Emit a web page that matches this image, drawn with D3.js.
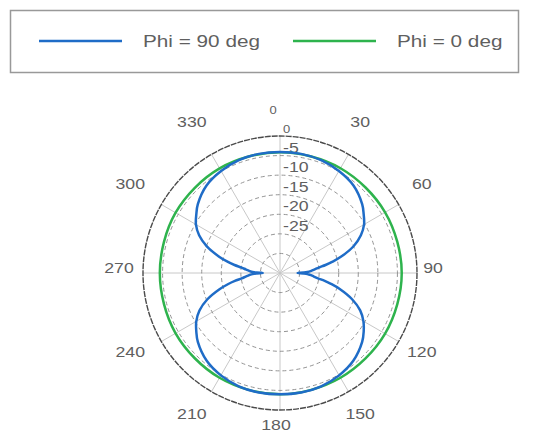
<!DOCTYPE html>
<html><head><meta charset="utf-8">
<script src="https://cdn.jsdelivr.net/npm/d3@7"></script>
<style>
html,body{margin:0;padding:0;background:#fff;}
svg{display:block;}
text{font-family:"Liberation Sans",Arial,sans-serif;fill:#5f5f5f;}
</style></head>
<body>
<svg id="chart" width="543" height="433"></svg>
<script>
// ---- data ----
const seriesNames = ["Phi = 90 deg", "Phi = 0 deg"];
const angleTicks = [0, 30, 60, 90, 120, 150, 180, 210, 240, 270, 300, 330];
const radialTicks = [0, -5, -10, -15, -20, -25];
const ringValues = [-30, -25, -20, -15, -10, -5];
const rMin = -35, rMax = 0;

// Phi = 90 deg (blue), dB vs angle (deg, clockwise from top)
const blueAngles = [0, 10, 20, 30, 40, 50, 55, 60, 65, 70, 75, 78, 80, 82, 84, 86, 88, 89, 90,
  91, 92, 94, 96, 98, 100, 102, 105, 110, 115, 120, 125, 130, 140, 150, 160, 170, 180,
  190, 200, 210, 220, 230, 235, 240, 245, 250, 255, 258, 260, 262, 264, 266, 268, 269, 270,
  271, 272, 274, 276, 278, 280, 282, 285, 290, 295, 300, 305, 310, 320, 330, 340, 350];
const blueDb = [-4.1, -4.1, -4.3, -4.9, -5.8, -7.6, -8.9, -10.2, -12.2, -15.0, -18.8, -21.4, -23.2, -25.0, -26.1, -27.0, -28.0, -29.0, -30.5,
  -29.0, -28.0, -27.1, -26.3, -25.2, -23.4, -21.7, -19.2, -15.4, -12.4, -10.4, -8.9, -7.6, -5.8, -4.8, -4.2, -4.0, -4.0,
  -4.0, -4.2, -4.8, -5.8, -7.6, -8.9, -10.3, -12.3, -15.2, -19.0, -21.5, -23.3, -25.1, -26.2, -27.1, -28.0, -29.0, -30.6,
  -29.0, -28.0, -27.1, -26.2, -25.1, -23.2, -21.4, -18.9, -15.1, -12.2, -10.2, -8.9, -7.6, -5.8, -4.9, -4.3, -4.1];

// Phi = 0 deg (green)
const greenAngles = [0, 30, 60, 90, 120, 150, 180, 210, 240, 270, 300, 330];
const greenDb = [-4.15, -4.1, -4.0, -3.9, -4.0, -4.1, -4.0, -4.1, -4.2, -4.3, -4.2, -4.15];

const colors = ["#1f6cc7", "#2eb34d"];

// ---- drawing ----
const svg = d3.select("#chart");
const cx = 280, cy = 273, R = 137;
const r = d3.scaleLinear().domain([rMin, rMax]).range([0, R]);
const rad = d => d * Math.PI / 180;
const sx = 1.18; // horizontal stretch of the reference lettering

// legend
const leg = svg.append("g");
leg.append("rect").attr("x", 10.5).attr("y", 10.5).attr("width", 508).attr("height", 62)
  .attr("fill", "#fff").attr("stroke", "#999").attr("stroke-width", 1.5);
const legX = [39, 293];
seriesNames.forEach((name, i) => {
  leg.append("line").attr("x1", legX[i]).attr("x2", legX[i] + 83).attr("y1", 41).attr("y2", 41)
    .attr("stroke", colors[i]).attr("stroke-width", 2.5);
  leg.append("text").attr("transform", `translate(${legX[i] + 104},47) scale(1.22,1)`)
    .attr("font-size", 17).text(name);
});

const g = svg.append("g").attr("transform", `translate(${cx},${cy})`);

// spokes
g.selectAll("line.spoke").data(angleTicks).join("line").attr("class", "spoke")
  .attr("x1", 0).attr("y1", 0)
  .attr("x2", d => R * Math.sin(rad(d))).attr("y2", d => -R * Math.cos(rad(d)))
  .attr("stroke", "#c8c8c8").attr("stroke-width", 1);

// rings
g.selectAll("circle.ring").data(ringValues).join("circle").attr("class", "ring")
  .attr("r", d => r(d)).attr("fill", "none")
  .attr("stroke", "#949494").attr("stroke-width", 1).attr("stroke-dasharray", "4,3");
g.append("circle").attr("r", r(rMax)).attr("fill", "none")
  .attr("stroke", "#4a4a4a").attr("stroke-width", 1.4).attr("stroke-dasharray", "6,1");

// radial labels
g.selectAll("text.rl").data(radialTicks).join("text").attr("class", "rl")
  .attr("transform", d => `translate(3,${-r(d) - 3}) scale(${sx},1)`)
  .attr("font-size", d => d === 0 ? 11 : 15)
  .text(d => d);

// angle labels
const lcx = -4, lcy = -5.5;
const lr = d => 157 + 13 * Math.abs(Math.sin(rad(2 * d)));
g.selectAll("text.al").data(angleTicks).join("text").attr("class", "al")
  .attr("transform", d => `translate(${lcx + lr(d) * Math.sin(rad(d)) + (d === 0 ? -3 : 0)},${lcy - lr(d) * Math.cos(rad(d))}) scale(${sx},1)`)
  .attr("text-anchor", "middle").attr("dominant-baseline", "central")
  .attr("font-size", d => d === 0 ? 11 : 15)
  .text(d => d);

// curves
const line = d3.lineRadial().angle(d => rad(d[0])).radius(d => r(d[1]))
  .curve(d3.curveCatmullRomClosed.alpha(0.5));
g.append("path").datum(greenAngles.map((a, i) => [a, greenDb[i]]))
  .attr("d", line).attr("fill", "none").attr("stroke", colors[1]).attr("stroke-width", 2.5);
g.append("path").datum(blueAngles.map((a, i) => [a, blueDb[i]]))
  .attr("d", line).attr("fill", "none").attr("stroke", colors[0]).attr("stroke-width", 2.5);
</script>
</body></html>
